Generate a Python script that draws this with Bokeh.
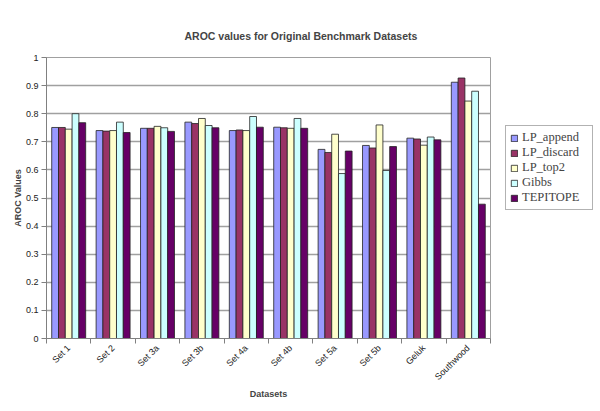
from bokeh.plotting import figure
from bokeh.models import ColumnDataSource, FixedTicker, Legend, LegendItem, Range1d
from bokeh.embed import file_html
from bokeh.resources import INLINE
import math

datasets = ["Set 1", "Set 2", "Set 3a", "Set 3b", "Set 4a", "Set 4b", "Set 5a", "Set 5b", "Geluk", "Southwood"]
series_names = ["LP_append", "LP_discard", "LP_top2", "Gibbs", "TEPITOPE"]
lp_append = [0.751, 0.740, 0.748, 0.770, 0.740, 0.752, 0.673, 0.687, 0.713, 0.912]
lp_discard = [0.751, 0.738, 0.748, 0.765, 0.742, 0.750, 0.662, 0.678, 0.710, 0.927]
lp_top2 = [0.745, 0.740, 0.755, 0.783, 0.740, 0.748, 0.727, 0.760, 0.688, 0.845]
gibbs = [0.800, 0.770, 0.750, 0.758, 0.790, 0.783, 0.587, 0.598, 0.717, 0.880]
tepitope = [0.768, 0.733, 0.737, 0.750, 0.752, 0.748, 0.667, 0.683, 0.707, 0.478]
colors = ["#9999FF", "#993366", "#FFFFCC", "#CCFFFF", "#660066"]
y_ticks = [0, 0.1, 0.2, 0.3, 0.4, 0.5, 0.6, 0.7, 0.8, 0.9, 1.0]

all_series = [lp_append, lp_discard, lp_top2, gibbs, tepitope]
n = len(datasets)
bw = 0.153

p = figure(frame_width=444, frame_height=281, output_backend="svg", toolbar_location=None,
           x_range=Range1d(0, n), y_range=Range1d(0, 1),
           min_border_left=46, min_border_right=102, min_border_top=57, min_border_bottom=65)

renderers = []
for k, (vals, c) in enumerate(zip(all_series, colors)):
    xs = [i + 0.5 + (k - 2) * bw for i in range(n)]
    src = ColumnDataSource(dict(x=xs, top=vals))
    r = p.vbar(x="x", top="top", width=bw, source=src, fill_color=c, line_color="#222222", line_width=0.8)
    renderers.append(r)

p.title.text = "AROC values for Original Benchmark Datasets"
p.title.text_font = "Liberation Sans"
p.title.text_font_size = "10.5px"
p.title.text_font_style = "bold"
p.title.align = "left"
p.title.offset = 138
p.title.standoff = 32

p.xgrid.visible = False
p.ygrid.ticker = FixedTicker(ticks=y_ticks)
p.ygrid.grid_line_color = "#A0A0A0"
p.ygrid.grid_line_width = 1.5
p.outline_line_color = "#A0A0A0"
p.outline_line_width = 1
p.background_fill_color = "white"

xa = p.xaxis[0]
xa.ticker = FixedTicker(ticks=[i + 0.5 for i in range(n)], minor_ticks=list(range(n + 1)))
xa.major_label_overrides = {i + 0.5: d for i, d in enumerate(datasets)}
xa.major_tick_line_color = None
xa.major_tick_out = 5
xa.minor_tick_in = 0
xa.minor_tick_out = 5
xa.minor_tick_line_color = "#808080"
xa.axis_line_color = "#808080"
xa.major_label_orientation = math.pi / 4
xa.major_label_standoff = 3
xa.major_label_text_font = "Liberation Sans"
xa.major_label_text_font_size = "9px"
xa.major_label_text_color = "#222222"
xa.axis_label = "Datasets"
xa.axis_label_text_font = "Liberation Sans"
xa.axis_label_text_font_size = "9px"
xa.axis_label_text_font_style = "bold"
xa.axis_label_standoff = 1

ya = p.yaxis[0]
ya.ticker = FixedTicker(ticks=y_ticks)
ya.major_label_overrides = {0: "0", 1: "1"}
ya.major_tick_in = 0
ya.major_tick_out = 5
ya.minor_tick_line_color = None
ya.axis_line_color = "#808080"
ya.major_tick_line_color = "#808080"
ya.major_label_standoff = 3
ya.major_label_text_font = "Liberation Sans"
ya.major_label_text_font_size = "9px"
ya.major_label_text_color = "#222222"
ya.axis_label = "AROC Values"
ya.axis_label_text_font = "Liberation Sans"
ya.axis_label_text_font_size = "9px"
ya.axis_label_text_font_style = "bold"
ya.axis_label_standoff = 0

legend = Legend(items=[LegendItem(label=nm, renderers=[r]) for nm, r in zip(series_names, renderers)],
                location=(15, 128))
legend.label_text_font = "Liberation Serif"
legend.label_text_font_size = "12.5px"
legend.label_text_line_height = 1.0
legend.glyph_width = 8
legend.glyph_height = 8
legend.label_height = 13
legend.label_width = 66
legend.spacing = 0
legend.padding = 4
legend.margin = 0
legend.border_line_color = "#666666"
legend.label_standoff = 4
legend.background_fill_alpha = 1
p.add_layout(legend, "right")

open("out.html", "w").write(file_html(p, INLINE))
